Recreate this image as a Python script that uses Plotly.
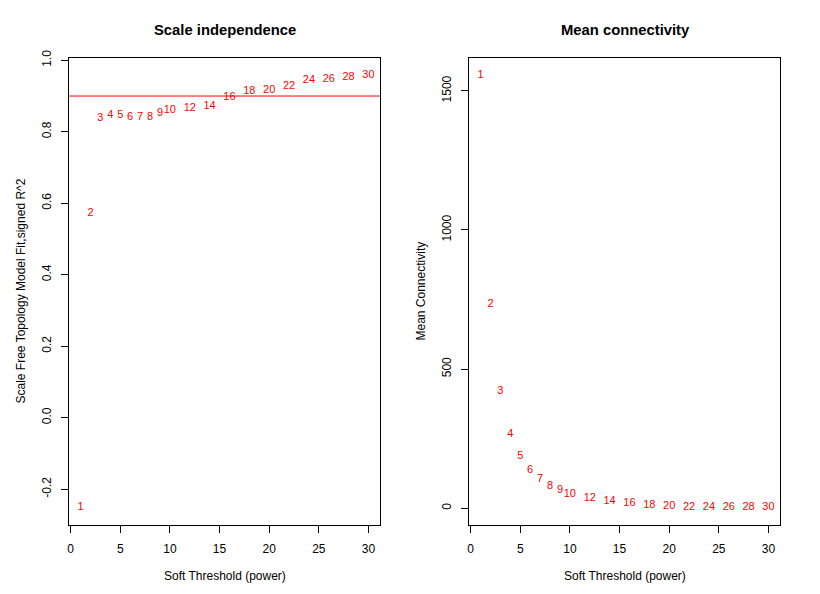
import plotly.graph_objects as go

powers = [1, 2, 3, 4, 5, 6, 7, 8, 9, 10, 12, 14, 16, 18, 20, 22, 24, 26, 28, 30]
sft_r2 = [-0.252, 0.573, 0.838, 0.845, 0.845, 0.840, 0.841, 0.840, 0.851, 0.859,
          0.865, 0.872, 0.896, 0.912, 0.915, 0.927, 0.944, 0.947, 0.953, 0.958]
mean_k = [1556, 733, 419, 267, 185, 135, 103, 80, 63, 50.5,
          35, 23, 16, 11, 7.5, 4.5, 3.2, 2.4, 1.9, 1.4]
r2_cut = 0.90
x_ticks = [0, 5, 10, 15, 20, 25, 30]
left_yticks = [-0.2, 0.0, 0.2, 0.4, 0.6, 0.8, 1.0]
left_yticklabels = ["-0.2", "0.0", "0.2", "0.4", "0.6", "0.8", "1.0"]
right_yticks = [0, 500, 1000, 1500]

FONT = "Arial, Liberation Sans, sans-serif"
W, H = 820, 594
box_top, box_bot = 58, 525
L1, R1 = 69, 380
L2, R2 = 469, 780

def px(x):
    return x / W

def py(y):
    return (H - y) / H

def rng(vals):
    lo, hi = min(vals), max(vals)
    e = (hi - lo) * 0.04
    return [lo - e, hi + e]

fig = go.Figure()
fig.add_trace(go.Scatter(x=powers, y=sft_r2, mode="text", text=[str(p) for p in powers],
                         textfont=dict(color="red", size=11, family=FONT),
                         textposition="middle center", xaxis="x", yaxis="y",
                         showlegend=False, hoverinfo="skip"))
fig.add_trace(go.Scatter(x=powers, y=mean_k, mode="text", text=[str(p) for p in powers],
                         textfont=dict(color="red", size=11, family=FONT),
                         textposition="middle center", xaxis="x2", yaxis="y2",
                         showlegend=False, hoverinfo="skip"))

fig.add_shape(type="line", xref="x domain", yref="y", x0=0, x1=1, y0=r2_cut, y1=r2_cut,
              line=dict(color="red", width=1))

ax_common = dict(showline=True, mirror=True, linecolor="black", linewidth=1,
                 ticks="outside", ticklen=7, tickcolor="black", tickwidth=1,
                 showgrid=False, zeroline=False, automargin=False,
                 tickfont=dict(size=12, family=FONT, color="black"))

xr = rng(powers)
fig.update_layout(
    template="none",
    width=W, height=H, margin=dict(l=0, r=0, t=0, b=0, autoexpand=False),
    plot_bgcolor="white", paper_bgcolor="white",
    font=dict(family=FONT, color="black"),
    xaxis=dict(domain=[px(L1), px(R1)], range=xr, tickvals=x_ticks, anchor="y",
               ticklabelstandoff=6, **ax_common),
    yaxis=dict(domain=[py(box_bot), py(box_top)], range=rng(sft_r2), tickvals=left_yticks,
               ticktext=left_yticklabels, tickangle=-90, anchor="x",
               ticklabelstandoff=5, **ax_common),
    xaxis2=dict(domain=[px(L2), px(R2)], range=xr, tickvals=x_ticks, anchor="y2",
                ticklabelstandoff=6, **ax_common),
    yaxis2=dict(domain=[py(box_bot), py(box_top)], range=rng(mean_k), tickvals=right_yticks,
                tickangle=-90, anchor="x2", ticklabelstandoff=5, **ax_common),
)

ann = []
ann.append(dict(text="<b>Scale independence</b>", x=px(225), y=py(30),
                font=dict(size=14.8, family=FONT)))
ann.append(dict(text="<b>Mean connectivity</b>", x=px(625), y=py(30),
                font=dict(size=14.8, family=FONT)))
ann.append(dict(text="Soft Threshold (power)", x=px(225), y=py(576),
                font=dict(size=12, family=FONT)))
ann.append(dict(text="Soft Threshold (power)", x=px(625), y=py(576),
                font=dict(size=12, family=FONT)))
ann.append(dict(text="Scale Free Topology Model Fit,signed R^2", x=px(20),
                y=py((box_top + box_bot) / 2), textangle=-90, font=dict(size=12, family=FONT)))
ann.append(dict(text="Mean Connectivity", x=px(420),
                y=py((box_top + box_bot) / 2), textangle=-90, font=dict(size=12, family=FONT)))
for a in ann:
    a.update(xref="paper", yref="paper", showarrow=False, xanchor="center", yanchor="middle")
fig.update_layout(annotations=ann)

fig.write_html("out.html", config={"displayModeBar": False},
               post_script="document.body.style.margin='0';document.body.style.padding='0';")
